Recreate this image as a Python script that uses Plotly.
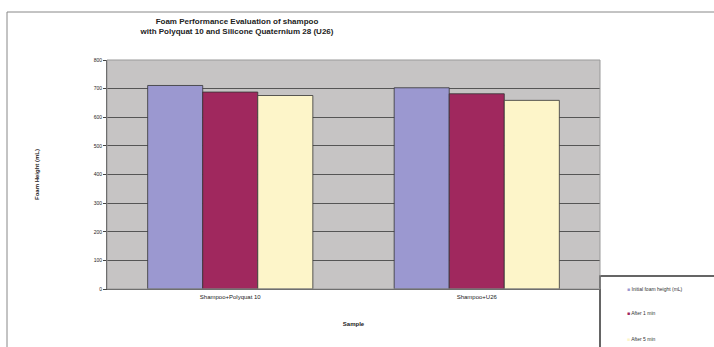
import plotly.graph_objects as go

categories = ["Shampoo+Polyquat 10", "Shampoo+U26"]
series_names = ["Initial foam height (mL)", "After 1 min", "After 5 min"]
initial = [711, 703]
after1 = [688, 682]
after5 = [676, 659]
colors = ["#9b98d0", "#a0285e", "#fdf5c9"]
y_ticks = [0, 100, 200, 300, 400, 500, 600, 700, 800]

W, H = 714, 347
L, R, T, B = 107, 114, 60, 58
pw, ph = W - L - R, H - T - B

fig = go.Figure()
for i, (name, vals) in enumerate(zip(series_names, [initial, after1, after5])):
    fig.add_trace(go.Bar(
        x=categories, y=vals, name=name, showlegend=False,
        marker=dict(color=colors[i], line=dict(color="#333333", width=0.8)),
    ))

def px_x(px):
    return (px - L) / pw

def px_y(py):
    return (H - B - py) / ph

legend_y = [289, 313, 339]
annotations = []
for i, name in enumerate(series_names):
    annotations.append(dict(
        xref="paper", yref="paper", x=px_x(625), y=px_y(legend_y[i]),
        xanchor="left", yanchor="middle", showarrow=False,
        text=f"<span style='color:{colors[i]}'>■</span> {name}",
        font=dict(size=5, color="#333333"),
    ))

fig.update_layout(
    width=W, height=H,
    margin=dict(l=L, r=R, t=T, b=B, autoexpand=False),
    paper_bgcolor="white",
    plot_bgcolor="#c6c4c4",
    barmode="group",
    bargap=0.33,
    bargroupgap=0,
    showlegend=False,
    font=dict(family="Liberation Sans, Arial", size=6, color="#222222"),
    title=dict(
        text="<b>Foam Performance Evaluation of shampoo<br>with Polyquat 10 and Silicone Quaternium 28 (U26)</b>",
        x=px_x(237), xref="paper", xanchor="center",
        y=(H - 24) / H, yanchor="middle",
        font=dict(size=8, color="#222222"),
    ),
    xaxis=dict(
        showgrid=False, showline=True, linecolor="#444444", linewidth=1,
        ticks="", tickfont=dict(size=6), mirror=False, ticklabelstandoff=2,
        title=dict(text="<b>Sample</b>", font=dict(size=6), standoff=22),
    ),
    yaxis=dict(
        range=[0, 800], tickvals=y_ticks, showgrid=True, gridcolor="#555555", gridwidth=1,
        showline=True, linecolor="#444444", linewidth=1, ticks="outside", ticklen=3,
        tickcolor="#444444", tickfont=dict(size=5),
        title=dict(text="<b>Foam Height (mL)</b>", font=dict(size=6), standoff=53),
        zeroline=False,
    ),
    annotations=annotations,
    shapes=[
        dict(type="rect", xref="paper", yref="paper",
             x0=px_x(7), x1=px_x(720), y0=px_y(400), y1=px_y(12),
             line=dict(color="#888888", width=1), layer="below"),
        dict(type="rect", xref="paper", yref="paper",
             x0=px_x(600), x1=px_x(720), y0=px_y(352), y1=px_y(276),
             line=dict(color="#333333", width=1.5), fillcolor="white", layer="below"),
        dict(type="rect", xref="paper", yref="paper",
             x0=0, x1=1, y0=0, y1=1,
             line=dict(color="#999999", width=1)),
    ],
)

fig.write_html("out.html")
